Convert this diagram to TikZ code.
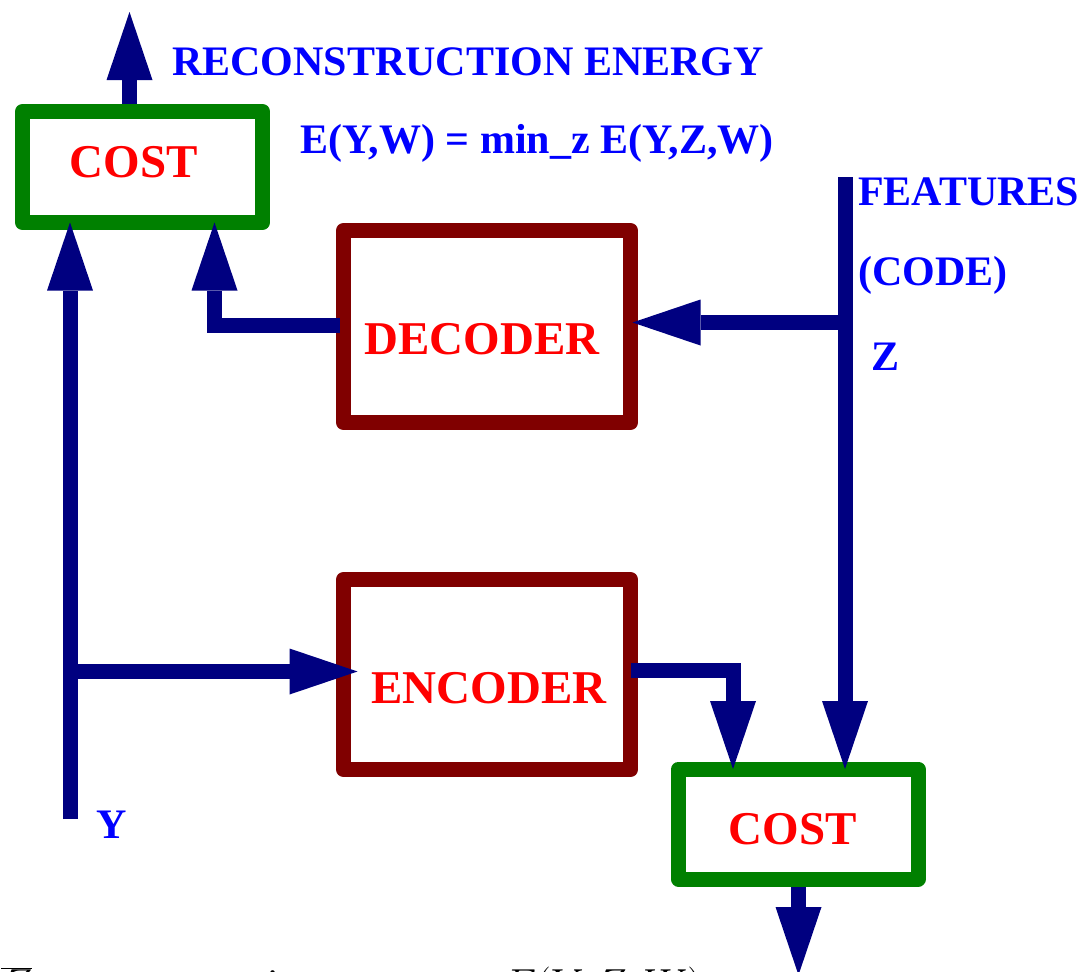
\RequirePackage{fix-cm}
\documentclass[tikz,border=0pt]{standalone}
\usepackage{fontspec}
\setmainfont{Liberation Serif}
\usetikzlibrary{arrows.meta}

\definecolor{navyarrow}{RGB}{0,0,128}
\definecolor{costgreen}{RGB}{0,128,0}
\definecolor{boxmaroon}{RGB}{128,0,0}
\definecolor{labelblue}{RGB}{0,0,255}
\definecolor{labelred}{RGB}{255,0,0}

\begin{document}
\begin{tikzpicture}[x=1pt,y=-1pt,
  costbox/.style={draw=costgreen, line width=15pt, line join=round, fill=white,
    minimum width=240pt, minimum height=111pt, inner sep=0pt, outer sep=0pt},
  modbox/.style={draw=boxmaroon, line width=15pt, line join=round, fill=white,
    minimum width=287pt, inner sep=0pt, outer sep=0pt},
  flow/.style={draw=navyarrow, line width=15pt,
    -{Triangle[width=46pt,length=68pt,line width=0pt]}},
  boxlabel/.style={text=labelred, font=\fontsize{47}{52}\selectfont\bfseries,
    inner sep=0pt, anchor=base},
  sidelabel/.style={text=labelblue, font=\fontsize{42}{48}\selectfont\bfseries,
    inner sep=0pt, anchor=base west},
  mathlabel/.style={font=\fontsize{42}{48}\selectfont, inner sep=0pt, anchor=base west}]

\useasboundingbox (0,0) rectangle (1085,972);
\clip (0,0) rectangle (1085,972);

% boxes
\node[costbox] (costTop) at (142.5,167) {};
\node[modbox, minimum height=192pt] (dec) at (487,326.5) {};
\node[modbox, minimum height=190pt] (enc) at (487,674.5) {};
\node[costbox, minimum width=239.5pt, minimum height=110pt] (costBot) at (798.25,824) {};

% box captions
\node[boxlabel] (costTopLbl) at (133.5,177) {COST};
\node[boxlabel] (decLbl) at (482,354) {DECODER};
\node[boxlabel] (encLbl) at (489,703) {ENCODER};
\node[boxlabel] (costBotLbl) at (792.5,844) {COST};

% side captions
\node[sidelabel] (energyLbl) at (172,75) {RECONSTRUCTION ENERGY};
\node[sidelabel] (energyDef) at (300,153) {E(Y,W) = min\_z E(Y,Z,W)};
\node[sidelabel] (featLbl) at (858,205) {FEATURES};
\node[sidelabel] (codeLbl) at (858,285) {(CODE)};
\node[sidelabel] (zLbl) at (871,370) {Z};
\node[sidelabel] (yLbl) at (96,838) {Y};

% formula running along the lower edge, mostly below the page
\node[mathlabel] (zBarEq) at (1,998) {$\overline{Z} =$};
\node[mathlabel] (argminOp) at (181,998) {$\mathop{\mathrm{argmin}}\nolimits_z$};
\node[mathlabel] (energyZ) at (503,998) {$E(Y, Z, W)$};

% anchor points of the wiring
\coordinate (energyOut) at (129.5,12);
\coordinate (yIn) at (70,819);
\coordinate (yBranch) at (70,671.5);
\coordinate (decTap) at (214.5,325.5);
\coordinate (featTop) at (845,177);
\coordinate (featBranch) at (845,322.5);
\coordinate (encTap) at (733,670);
\coordinate (costOut) at (798.5,975);

% connectors
\draw[flow, shorten <=7.5pt] (costTop.north -| energyOut) -- (energyOut);
\draw[flow] (yIn) -- (yIn |- costTop.south);
\draw[flow, shorten >=-14pt] (yBranch) -- (yBranch -| enc.west);
\draw[flow, shorten <=4pt] (dec.west |- decTap) -| (decTap |- costTop.south);
\draw[flow] (featTop) -- (featTop |- costBot.north);
\draw[flow, shorten >=2pt] (featBranch) -- (featBranch -| dec.east);
\draw[flow] (enc.east |- encTap) -| (encTap |- costBot.north);
\draw[flow, shorten <=7.5pt] (costBot.south -| costOut) -- (costOut);
\end{tikzpicture}
\end{document}
